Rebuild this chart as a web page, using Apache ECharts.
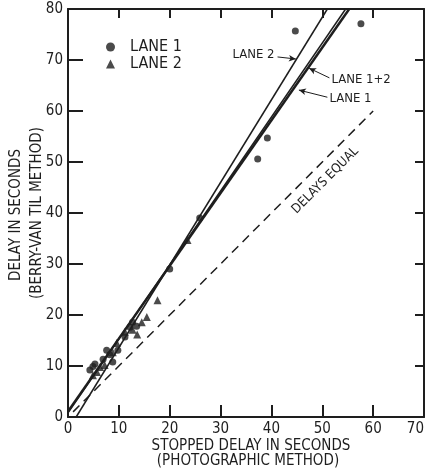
<!DOCTYPE html>
<html>
<head>
<meta charset="utf-8">
<script src="https://cdn.jsdelivr.net/npm/echarts@6/dist/echarts.min.js"></script>
<style>
    html, body { margin: 0; padding: 0; background: #fff; }
    #chart { width: 430px; height: 473px; }
</style>
</head>
<body>
<div id="chart"></div>
<script>
// 轴刻度
const xTicks = [0, 10, 20, 30, 40, 50, 60, 70];
const yTicks = [0, 10, 20, 30, 40, 50, 60, 70, 80];

// 观测点 (stopped delay, Berry-Van Til delay)
const lane1Points = [
    [4.3, 9.2], [4.9, 9.9], [5.3, 10.4], [6.9, 11.3], [7.6, 13.1], [8.2, 12.2],
    [8.8, 10.8], [9.8, 13.1], [11.2, 15.7], [12.2, 17.6], [12.7, 18.6], [13.5, 17.8],
    [20.0, 29.0], [25.9, 39.0], [37.3, 50.6], [39.2, 54.7], [44.7, 75.7], [57.6, 77.1]
];
const lane2Points = [
    [4.9, 8.2], [5.7, 8.8], [6.3, 9.8], [7.2, 10.2], [8.8, 12.7], [9.6, 14.5],
    [11.2, 16.7], [12.7, 17.1], [13.6, 16.2], [14.5, 18.6], [15.5, 19.6], [17.6, 22.9],
    [23.5, 34.7]
];

// 回归线
const lane1Fit = [[0, 1.1], [55.3, 80]];
const lane12Fit = [[0, 0.8], [54.6, 80]];
const lane2Fit = [[1.6, 0], [51, 80]];
const equalLine = [[1, 1], [60, 60]];

const ink = '#1e1e1e';
const font = '"DejaVu Sans Condensed", "Liberation Sans Narrow", "DejaVu Sans", sans-serif';

function fitSeries(name, data, width, arrow) {
    return {
        name: name,
        type: 'line',
        data: data,
        showSymbol: false,
        silent: true,
        lineStyle: { color: ink, width: width },
        markLine: arrow ? {
            silent: true,
            symbol: ['none', 'arrow'],
            symbolSize: [5, 7],
            label: { show: false },
            lineStyle: { color: ink, width: 1, type: 'solid' },
            data: [[{ coord: arrow[0] }, { coord: arrow[1] }]]
        } : undefined
    };
}

function axisCommon(tickLen, showLabel, labelExtra) {
    return {
        axisLine: { onZero: false, lineStyle: { color: ink, width: 2 } },
        axisTick: { inside: true, length: tickLen, lineStyle: { color: ink, width: 2 } },
        axisLabel: Object.assign({ show: showLabel, color: ink, fontSize: 15, margin: 5, fontFamily: font }, labelExtra || {}),
        splitLine: { show: false }
    };
}

const chart = echarts.init(document.getElementById('chart'));
chart.setOption({
    animation: false,
    backgroundColor: '#fff',
    textStyle: { fontFamily: font, color: ink },
    grid: { left: 68, right: 6, top: 9, bottom: 56, outerBoundsMode: 'none', containLabel: false },
    legend: {
        data: ['LANE 1', 'LANE 2'],
        orient: 'vertical',
        left: 101,
        top: 34,
        itemWidth: 9,
        itemHeight: 9,
        itemGap: 1,
        textStyle: { fontFamily: font, fontSize: 16, color: ink, padding: [0, 0, 0, 10] }
    },
    xAxis: [
        Object.assign({ type: 'value', min: 0, max: 70, interval: 10 },
            axisCommon(12, true, { alignMaxLabel: 'right' })),
        Object.assign({ type: 'value', position: 'top', min: 0, max: 70, interval: 10 },
            axisCommon(9, false))
    ],
    yAxis: [
        Object.assign({ type: 'value', min: 0, max: 80, interval: 10 },
            axisCommon(15, true)),
        Object.assign({ type: 'value', position: 'right', min: 0, max: 80, interval: 10 },
            axisCommon(9, false))
    ],
    series: [
        {
            name: 'DELAYS EQUAL',
            type: 'line',
            data: equalLine,
            showSymbol: false,
            silent: true,
            lineStyle: { color: ink, width: 1.5, type: [9, 6] }
        },
        fitSeries('LANE 2 fit', lane2Fit, 1.5, [[41.2, 70.6], [44.8, 70.2]]),
        fitSeries('LANE 1+2 fit', lane12Fit, 1.5, [[51.4, 66.5], [47.4, 68.4]]),
        fitSeries('LANE 1 fit', lane1Fit, 2.5, [[51.0, 62.7], [45.4, 64.1]]),
        {
            name: 'LANE 1',
            type: 'scatter',
            symbol: 'circle',
            symbolSize: 7,
            itemStyle: { color: ink },
            data: lane1Points
        },
        {
            name: 'LANE 2',
            type: 'scatter',
            symbol: 'triangle',
            symbolSize: 8,
            itemStyle: { color: ink },
            data: lane2Points
        }
    ]
});

// 注释文字
function px(pt) {
    return chart.convertToPixel({ xAxisIndex: 0, yAxisIndex: 0 }, pt);
}

function note(text, pt, align, size, rotation) {
    const p = px(pt);
    return {
        type: 'text', x: p[0], y: p[1], rotation: rotation || 0, silent: true,
        style: {
            text: text, fill: ink, font: size + 'px ' + font,
            align: align, verticalAlign: 'middle'
        }
    };
}

chart.setOption({
    graphic: [
        note('LANE 2', [40.6, 71.0], 'right', 13),
        note('LANE 1+2', [51.8, 66.1], 'left', 13),
        note('LANE 1', [51.4, 62.5], 'left', 13),
        note('DELAYS EQUAL', [50.6, 46.4], 'center', 13, Math.PI / 4),
        {
            type: 'text', x: 251, y: 446, silent: true,
            style: { text: 'STOPPED DELAY IN SECONDS', fill: ink, font: '15px ' + font, align: 'center', verticalAlign: 'middle' }
        },
        {
            type: 'text', x: 248, y: 461, silent: true,
            style: { text: '(PHOTOGRAPHIC METHOD)', fill: ink, font: '15px ' + font, align: 'center', verticalAlign: 'middle' }
        },
        {
            type: 'text', x: 16, y: 215, rotation: Math.PI / 2, silent: true,
            style: { text: 'DELAY IN SECONDS', fill: ink, font: '15px ' + font, align: 'center', verticalAlign: 'middle' }
        },
        {
            type: 'text', x: 37, y: 213, rotation: Math.PI / 2, silent: true,
            style: { text: '(BERRY-VAN TIL METHOD)', fill: ink, font: '15px ' + font, align: 'center', verticalAlign: 'middle' }
        }
    ]
});
</script>
</body>
</html>
